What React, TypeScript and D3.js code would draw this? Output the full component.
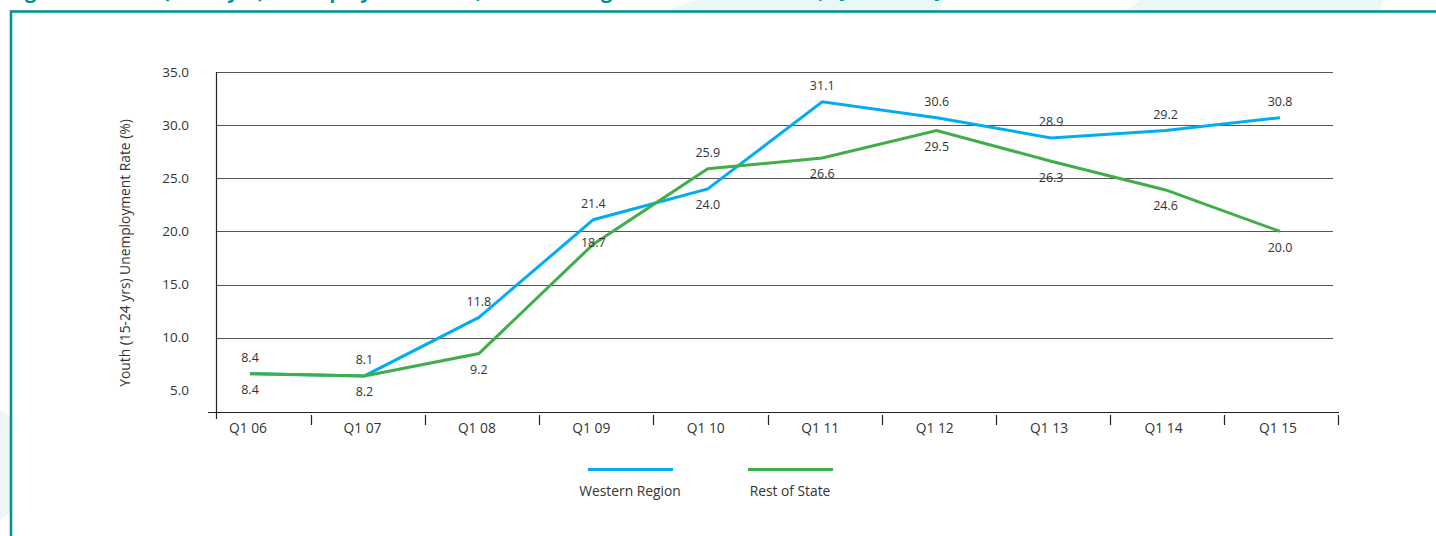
import React from "react";
import * as d3 from "d3";

const categories = ["Q1 06", "Q1 07", "Q1 08", "Q1 09", "Q1 10", "Q1 11", "Q1 12", "Q1 13", "Q1 14", "Q1 15"];
// plotted values (as drawn)
const westernValues = [6.6, 6.4, 11.9, 21.1, 24.0, 32.2, 30.7, 28.8, 29.5, 30.7];
const restValues = [6.6, 6.4, 8.5, 18.8, 25.9, 26.9, 29.5, 26.6, 23.9, 20.0];
// data labels (as printed)
const westernLabels = [8.4, 8.1, 11.8, 21.4, 24.0, 31.1, 30.6, 28.9, 29.2, 30.8];
const restLabels = [8.4, 8.2, 9.2, 18.7, 25.9, 26.6, 29.5, 26.3, 24.6, 20.0];
const westernLabelSide = ["above", "above", "above", "above", "below", "above", "above", "above", "above", "above"];
const restLabelSide = ["below", "below", "below", "center", "above", "below", "below", "below", "below", "below"];
const yTicks = [5, 10, 15, 20, 25, 30, 35];
const gridTicks = [10, 15, 20, 25, 30, 35];
const seriesNames = ["Western Region", "Rest of State"];
const titleText = "Figure 6: Youth (15-24 yrs) Unemployment Rate, Western Region and Rest of State, Q1 2006 - Q1 2015";

const BLUE = "#00aeef";
const GREEN = "#3fae49";
const TEAL = "#00968f";
const TEXT = "#333";
const FONT = "'Open Sans', 'Noto Sans', sans-serif";

export default function App() {
  const W = 1436;
  const H = 536;
  const x = d3.scalePoint<string>().domain(categories).range([250, 1280]);
  const band = d3.scaleBand<string>().domain(categories).range([197, 1338]).padding(0);
  const y = d3.scaleLinear().domain([3, 35]).range([412, 72]);
  const axisX = 216;
  const gridRight = 1333;

  const line = d3
    .line<number>()
    .x((_, i) => x(categories[i]) as number)
    .y((d) => y(d));

  const labelDy = (side: string) => (side === "above" ? -16 : side === "below" ? 16 : -2);

  const series = [
    { name: seriesNames[0], values: westernValues, labels: westernLabels, sides: westernLabelSide, color: BLUE },
    { name: seriesNames[1], values: restValues, labels: restLabels, sides: restLabelSide, color: GREEN },
  ];

  const legendX = d3.scalePoint<string>().domain(seriesNames).range([630, 790]);

  return (
    <svg
      width={W}
      height={H}
      style={{ position: "fixed", left: 0, top: 0, background: "#fff" }}
      fontFamily={FONT}
    >
      {/* light background shapes */}
      <polygon points="648,18 696,0 943,0 936,18" fill="#ebf6f7" />
      <polygon points="1118,18 1140,0 1384,0 1377,18" fill="#ebf6f7" />
      <polygon points="0,410 14,420 14,510 0,520" fill="#ebf6f7" />
      {/* clipped title (cut off at top edge, as in the reference) */}
      <text x={8} y={-2} fontSize={20} fontWeight={700} fill={TEAL}>
        {titleText}
      </text>
      {/* frame */}
      <rect x={11} y={11.5} width={W + 20} height={H + 20} fill="#fff" stroke={TEAL} strokeWidth={2.6} />

      {/* gridlines */}
      {gridTicks.map((t) => (
        <line key={t} x1={axisX} x2={gridRight} y1={Math.round(y(t)) + 0.5} y2={Math.round(y(t)) + 0.5} stroke="#555" strokeWidth={1} />
      ))}
      {/* y axis */}
      <line x1={axisX + 0.5} x2={axisX + 0.5} y1={y(35)} y2={y(3) + 7} stroke="#222" strokeWidth={1.2} />
      {/* x axis */}
      <line x1={208} x2={1339} y1={Math.round(y(3)) + 0.5} y2={Math.round(y(3)) + 0.5} stroke="#222" strokeWidth={1.2} />
      {categories.map((c) => {
        const bx = Math.round((band(c) as number) + band.bandwidth()) + 0.5;
        return <line key={c} x1={bx} x2={bx} y1={y(3) + 3} y2={y(3) + 13} stroke="#222" strokeWidth={1.2} />;
      })}
      {/* y tick labels */}
      {yTicks.map((t) => (
        <text key={t} x={189} y={y(t)} dy="0.35em" textAnchor="end" fontSize={13.5} fill={TEXT}>
          {t.toFixed(1)}
        </text>
      ))}
      {/* y axis title */}
      <text
        transform={`translate(130, ${(y(35) + y(3)) / 2 + 11}) rotate(-90)`}
        textAnchor="middle"
        fontSize={13.8}
        fill={TEXT}
      >
        Youth (15-24 yrs) Unemployment Rate (%)
      </text>
      {/* x labels */}
      {categories.map((c) => (
        <text key={c} x={(x(c) as number) - 2} y={433} textAnchor="middle" fontSize={13.8} fill={TEXT}>
          {c}
        </text>
      ))}

      {/* lines */}
      {series.map((s) => (
        <path key={s.name} d={line(s.values) || ""} fill="none" stroke={s.color} strokeWidth={3} strokeLinejoin="miter" />
      ))}
      {/* data labels */}
      {series.map((s) =>
        s.labels.map((lab, i) => (
          <text
            key={s.name + i}
            x={x(categories[i]) as number}
            y={y(s.values[i]) + labelDy(s.sides[i])}
            dy="0.35em"
            textAnchor="middle"
            fontSize={12.5}
            fill={TEXT}
          >
            {lab.toFixed(1)}
          </text>
        ))
      )}

      {/* legend */}
      {series.map((s) => {
        const cx = legendX(s.name) as number;
        return (
          <g key={s.name}>
            <line x1={cx - 42} x2={cx + 43} y1={469.5} y2={469.5} stroke={s.color} strokeWidth={3} />
            <text x={cx} y={491} dy="0.35em" textAnchor="middle" fontSize={13.8} fill={TEXT}>
              {s.name}
            </text>
          </g>
        );
      })}
    </svg>
  );
}
